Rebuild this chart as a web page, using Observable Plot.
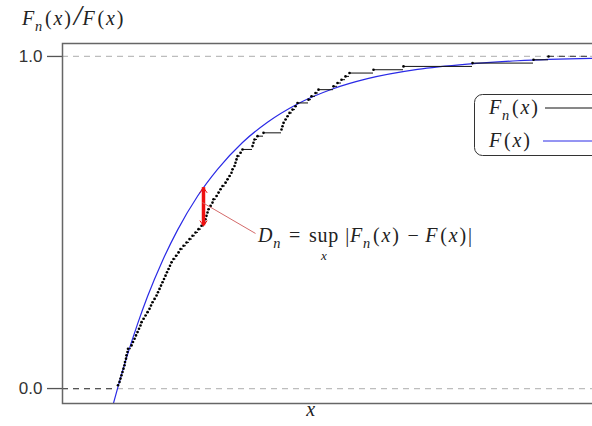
<!DOCTYPE html>
<html>
<head>
<meta charset="utf-8">
<script src="https://cdn.jsdelivr.net/npm/d3@7"></script>
<script src="https://cdn.jsdelivr.net/npm/@observablehq/plot@0.6"></script>
<style>
  html, body { margin: 0; padding: 0; background: white; overflow: hidden; }
  #chart { width: 592px; height: 426px; overflow: hidden; }
</style>
</head>
<body>
<div id="chart"></div>
<script>
// ---- data (x in arbitrary units, no ticks) ----
const xDomain = [-55, 487];
const yDomain = [-0.045, 1.039];
const yTicks = [0, 1];

// empirical CDF: sample positions and step levels
const ecdfX = [0.5, 2, 3, 4, 5, 6, 7, 7.5, 8.5, 9,
  10, 10.5, 14, 15.5, 17, 18.5, 20, 21.5, 23, 24,
  26, 28, 30, 32, 33.5, 35, 37, 39, 40.5, 42,
  43.5, 45, 46.5, 48, 49.5, 51, 52.5, 54, 56, 58.5,
  61, 63, 66, 69, 72, 75, 78, 81, 84, 87,
  88, 89, 90, 91, 93, 95, 96, 99, 101, 103,
  105, 108, 110, 112, 114, 115, 117, 118, 119, 120,
  123, 125, 135, 136, 137, 140, 146, 164, 165, 166,
  168, 170, 172, 175, 178, 180, 191, 194, 198, 201,
  216, 220, 224, 228, 232, 256, 286, 355, 416, 431];
const ecdfY = [0.01, 0.02, 0.03, 0.04, 0.05, 0.06, 0.07, 0.08, 0.09, 0.10,
  0.11, 0.12, 0.13, 0.14, 0.15, 0.16, 0.17, 0.18, 0.19, 0.20,
  0.21, 0.22, 0.23, 0.24, 0.25, 0.26, 0.27, 0.28, 0.29, 0.30,
  0.31, 0.32, 0.33, 0.34, 0.35, 0.36, 0.37, 0.38, 0.39, 0.40,
  0.41, 0.42, 0.43, 0.44, 0.45, 0.46, 0.47, 0.48, 0.49, 0.50,
  0.51, 0.52, 0.53, 0.54, 0.55, 0.56, 0.57, 0.58, 0.59, 0.60,
  0.61, 0.62, 0.63, 0.64, 0.65, 0.66, 0.67, 0.68, 0.69, 0.70,
  0.71, 0.72, 0.73, 0.74, 0.75, 0.76, 0.77, 0.78, 0.79, 0.80,
  0.81, 0.82, 0.83, 0.84, 0.85, 0.86, 0.87, 0.88, 0.89, 0.90,
  0.91, 0.92, 0.93, 0.94, 0.95, 0.96, 0.97, 0.98, 0.99, 1.00];

// theoretical CDF
const theoryX = [-4, 0, 10, 20, 30, 45, 60, 80, 100, 125, 150, 180, 215, 250, 300, 350, 400, 487];
const theoryY = [-0.044, 0, 0.102, 0.194, 0.277, 0.385, 0.477, 0.579, 0.660, 0.741, 0.802, 0.857, 0.902, 0.933, 0.961, 0.977, 0.987, 0.995];

// largest gap D_n
const dnX = 86;
const dnLow = 0.49;
const dnHigh = 0.605;
const dnLabelAt = [138, 0.467];
const dnFrom = [85, 0.56];

// ---- derived tables ----
const segments = ecdfX.slice(0, -1).map((x, i) => ({x1: x, x2: ecdfX[i + 1], y: ecdfY[i]}));
const points = ecdfX.map((x, i) => ({x, y: ecdfY[i]}));
const theory = theoryX.map((x, i) => ({x, y: theoryY[i]}));
const dnMid = (dnLow + dnHigh) / 2;

const blue = "#2a2ae6";
const red = "#ee1010";

const chart = Plot.plot({
  width: 592,
  height: 426,
  marginLeft: 62,
  marginTop: 43,
  marginBottom: 23,
  marginRight: -12,
  x: {domain: xDomain, axis: null},
  y: {domain: yDomain, axis: null},
  style: {fontFamily: "'Liberation Sans', Arial, sans-serif", fontSize: "17px", color: "#333", background: "white", overflow: "hidden"},
  marks: [
    Plot.ruleY(yTicks, {stroke: "#bdbdbd", strokeDasharray: "6,5", strokeWidth: 1.2}),
    Plot.ruleY([{y: 0, x1: xDomain[0], x2: ecdfX[0]}], {y: "y", x1: "x1", x2: "x2", stroke: "#555", strokeDasharray: "6,5", strokeWidth: 1.3}),
    Plot.ruleY([{y: 1, x1: ecdfX[ecdfX.length - 1], x2: xDomain[1]}], {y: "y", x1: "x1", x2: "x2", stroke: "#555", strokeDasharray: "6,5", strokeWidth: 1.3}),
    Plot.axisY({ticks: yTicks, tickFormat: d3.format(".1f"), tickSize: 15, tickPadding: 5, label: null, stroke: "#555", strokeWidth: 1.3}),
    Plot.line(theory, {x: "x", y: "y", stroke: blue, strokeWidth: 1.2, curve: "monotone-x", clip: true}),
    Plot.ruleY(segments, {y: "y", x1: "x1", x2: "x2", stroke: "#111", strokeWidth: 1}),
    Plot.dot(points, {x: "x", y: "y", r: 1.3, fill: "#000", stroke: null}),
    Plot.ruleX([dnX], {y1: dnLow, y2: dnHigh, stroke: red, strokeWidth: 3.5}),
    Plot.arrow([{x: dnX}], {x1: "x", x2: "x", y1: dnMid, y2: dnHigh, stroke: red, strokeWidth: 1, headLength: 9, headAngle: 70, bend: 0}),
    Plot.arrow([{x: dnX}], {x1: "x", x2: "x", y1: dnMid, y2: dnLow, stroke: red, strokeWidth: 1, headLength: 9, headAngle: 70, bend: 0}),
    Plot.link([{}], {x1: dnFrom[0], y1: dnFrom[1], x2: dnLabelAt[0], y2: dnLabelAt[1], stroke: "#d46a6a", strokeWidth: 1}),
    Plot.frame({stroke: "#666", strokeWidth: 1.5})
  ]
});
document.getElementById("chart").appendChild(chart);

// ---- math-style text overlays ----
const svg = d3.select(chart);
const sx = chart.scale("x"), sy = chart.scale("y");
const serif = "'Liberation Serif', 'Times New Roman', serif";

function mathText(x, y, parts, size, anchor) {
  const t = svg.append("text")
    .attr("x", x).attr("y", y)
    .attr("font-family", serif)
    .attr("font-size", size)
    .attr("letter-spacing", size * 0.04)
    .attr("fill", "#222")
    .attr("text-anchor", anchor || "start");
  let shifted = 0;
  for (const p of parts) {
    const ts = t.append("tspan").text(p.t);
    if (p.i) ts.attr("font-style", "italic");
    const target = p.sub ? size * 0.3 : 0;
    if (target !== shifted) { ts.attr("dy", target - shifted); shifted = target; }
    if (p.sub) ts.attr("font-size", size * 0.72);
    if (p.big) ts.attr("font-size", size * 1.45);
    if (p.dx) ts.attr("dx", p.dx);
  }
  return t;
}
const Fn = [{t: "F", i: true}, {t: "n", i: true, sub: true}, {t: "(", dx: 2}, {t: "x", i: true, dx: 1}, {t: ")", dx: 1}];
const F = [{t: "F", i: true}, {t: "(", dx: 2}, {t: "x", i: true, dx: 1}, {t: ")", dx: 1}];

// y label
mathText(22, 25, [...Fn, {t: "/", i: true, big: true, dx: 2}, ...F], 20);
// x label
mathText(311, 416, [{t: "x", i: true}], 20, "middle");

// D_n annotation
const lx = sx.apply(dnLabelAt[0]) + 3, ly = sy.apply(dnLabelAt[1]) + 9;
const t1 = mathText(lx, ly, [{t: "D", i: true}, {t: "n", i: true, sub: true}, {t: " = ", dx: 2}], 20);
const w1 = t1.node().getComputedTextLength() + 4;
const t2 = mathText(lx + w1, ly, [{t: "sup"}], 20);
const w2 = t2.node().getComputedTextLength();
mathText(lx + w1 + w2 / 2, ly + 18, [{t: "x", i: true}], 13, "middle");
mathText(lx + w1 + w2 + 6, ly, [{t: "|"}, ...Fn, {t: " − ", dx: 2}, ...F, {t: "|", dx: 1}], 20);

// legend
svg.append("rect").attr("x", 474.5).attr("y", 94.5).attr("width", 150).attr("height", 61)
  .attr("rx", 8).attr("fill", "white").attr("stroke", "#333").attr("stroke-width", 1);
mathText(489, 114, Fn, 20);
mathText(489, 147, F, 20);
svg.append("line").attr("x1", 545).attr("x2", 592).attr("y1", 108).attr("y2", 108).attr("stroke", "#111").attr("stroke-width", 1);
svg.append("line").attr("x1", 543).attr("x2", 592).attr("y1", 141).attr("y2", 141).attr("stroke", blue).attr("stroke-width", 1);
</script>
</body>
</html>
